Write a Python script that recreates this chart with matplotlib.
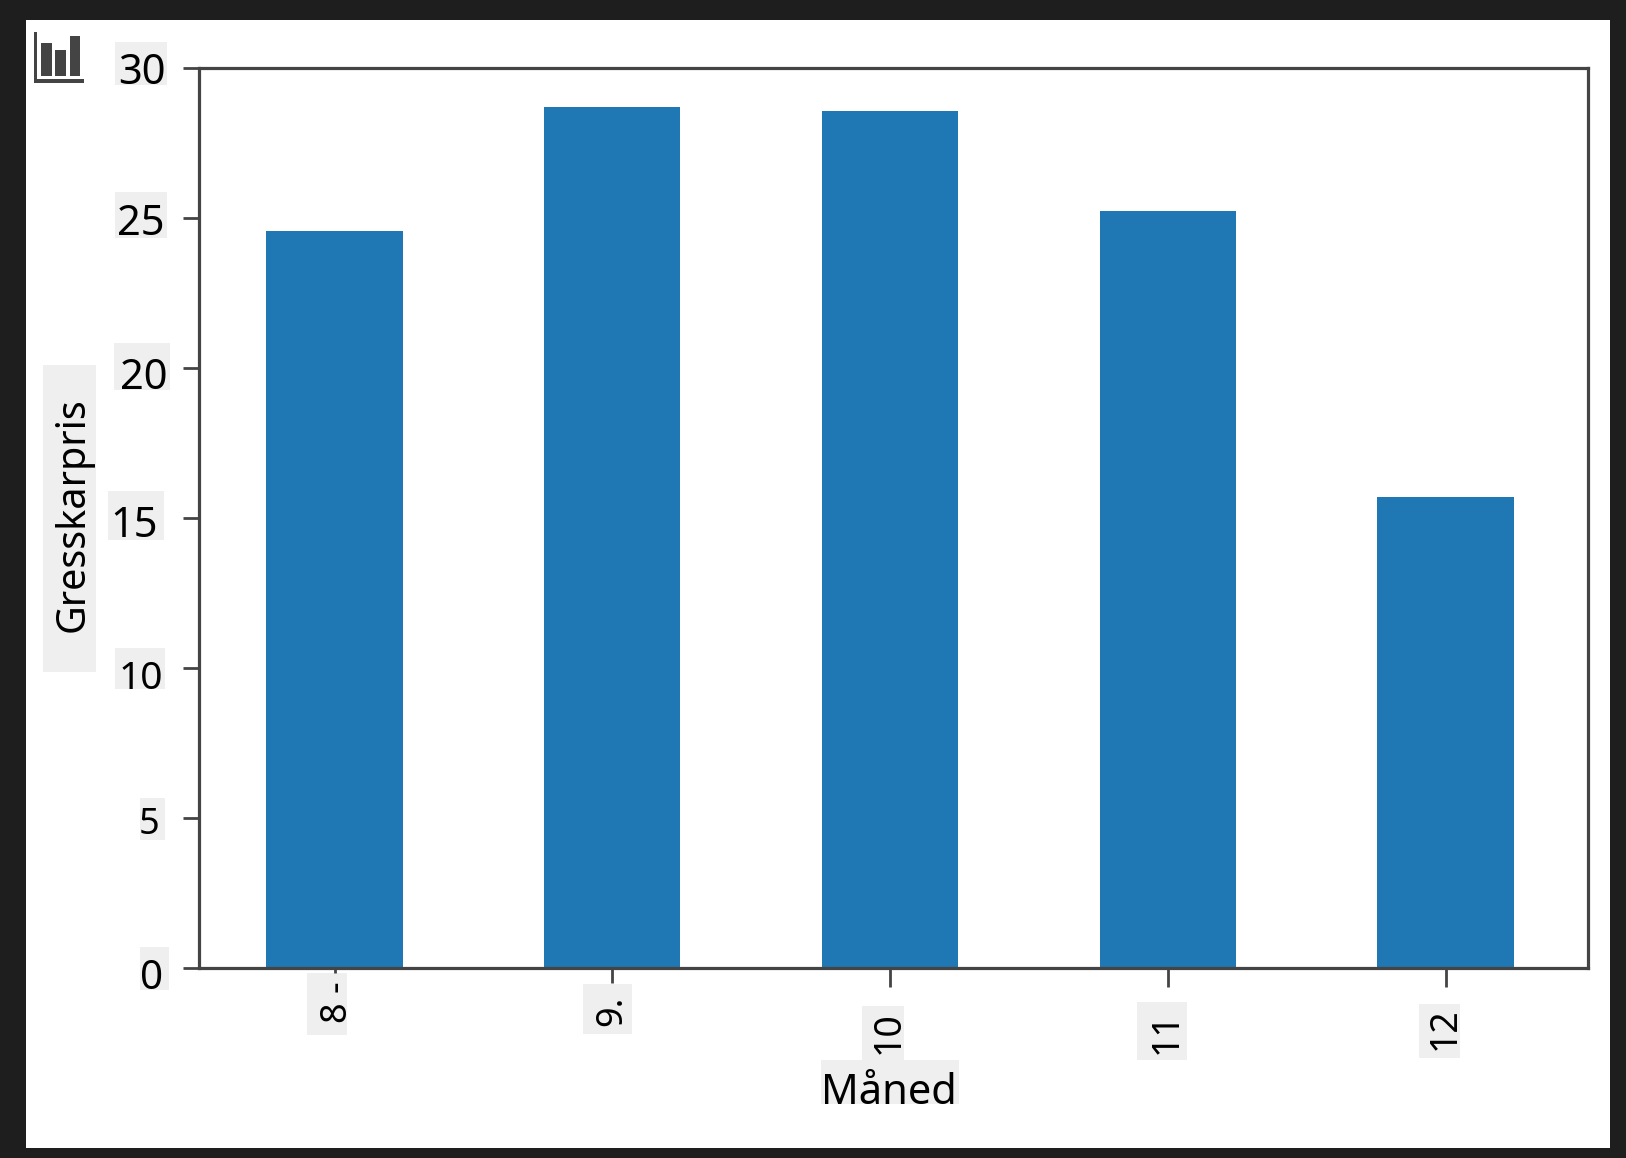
import matplotlib
matplotlib.use("Agg")
import matplotlib.pyplot as plt
from matplotlib.patches import Rectangle
from matplotlib.transforms import Affine2D

plt.rcParams['font.family'] = ['Noto Sans', 'DejaVu Sans']

months = ["8 -", "9.", "10", "11", "12"]
prices = [24.54, 28.69, 28.55, 25.23, 15.69]
y_ticks = [0, 5, 10, 15, 20, 25, 30]

W, H = 1626, 1158

# pixel offsets for the tick labels, the labels in the picture are not aligned
y_label_dx = [8, 4, 8, 3, 12, 9, 10]
y_label_dy = [-6, -3, -7, -3, -5, -1, -1]
y_label_size = [29, 26, 28, 30, 30, 30, 30]
x_label_dx = [3, 0, -1, -1, -1]
x_label_dy = [8, -6, -22, -22, -18]
x_label_size = [26, 26, 27, 27, 27]
x_tick_len = [5, 15, 19, 19, 19]

# grey patches behind the texts: x0, y0, x1, y1 in image pixels
text_patches = [
    (115, 42, 167, 85), (115, 192, 167, 238), (114, 343, 170, 390),
    (108, 491, 164, 540), (115, 648, 165, 689), (140, 798, 165, 840),
    (140, 947, 169, 990), (43, 365, 96, 672),
    (307, 973, 347, 1035), (583, 984, 632, 1034), (862, 1006, 904, 1060),
    (1137, 1002, 1187, 1060), (1419, 1004, 1460, 1058), (821, 1060, 959, 1104),
]
# chart icon in the corner
icon_rects = [
    (34, 32, 37, 83), (34, 79, 84, 83), (41, 43, 52, 76),
    (55, 50, 66, 76), (70, 36, 80, 76),
]


def px_rect(fig, box, color):
    x0, y0, x1, y1 = box
    rect = Rectangle((x0 / W, 1 - y1 / H), (x1 - x0) / W, (y1 - y0) / H,
                     transform=fig.transFigure, facecolor=color,
                     edgecolor="none", zorder=-1)
    fig.add_artist(rect)


fig = plt.figure(figsize=(W / 100, H / 100), dpi=100, facecolor="#1e1e1e")
px_rect(fig, (26, 20, 1610, 1148), "white")
for box in text_patches:
    px_rect(fig, box, "#efefef")
for box in icon_rects:
    px_rect(fig, box, "#444444")

ax = fig.add_axes([199 / W, 1 - 968 / H, (1588 - 199) / W, (968 - 67.5) / H])
ax.set_facecolor("white")
ax.bar(range(len(months)), prices, width=0.49, color="#1f77b4")
ax.set_xlim(-0.488, 4.513)
ax.set_ylim(0, 30)

for spine in ax.spines.values():
    spine.set_linewidth(2.3)
    spine.set_color("#444444")

ax.set_yticks(y_ticks)
ax.set_xticks(range(len(months)))
ax.set_xticklabels(months, rotation=90)
ax.tick_params(axis="y", length=11.5, width=2, color="#444444", labelsize=30, pad=20)
ax.tick_params(axis="x", width=2, color="#444444", pad=12)

for i, label in enumerate(ax.get_yticklabels()):
    label.set_fontsize(y_label_size[i])
    label.set_transform(label.get_transform() + Affine2D().translate(y_label_dx[i], y_label_dy[i]))
for i, label in enumerate(ax.get_xticklabels()):
    label.set_fontsize(x_label_size[i])
    label.set_transform(label.get_transform() + Affine2D().translate(x_label_dx[i], x_label_dy[i]))
for i, tick in enumerate(ax.xaxis.get_major_ticks()):
    tick.tick1line.set_markersize(x_tick_len[i] * 0.72)

ax.set_xlabel("Måned", fontsize=30)
ax.xaxis.set_label_coords(889 / W, 1 - 1104 / H, transform=fig.transFigure)
ax.xaxis.label.set_va("baseline")
ax.set_ylabel("Gresskarpris", fontsize=28.5)
ax.yaxis.set_label_coords(84 / W, 1 - 515 / H, transform=fig.transFigure)
ax.yaxis.label.set_va("baseline")

plt.savefig("out.png", dpi=100, facecolor=fig.get_facecolor())
